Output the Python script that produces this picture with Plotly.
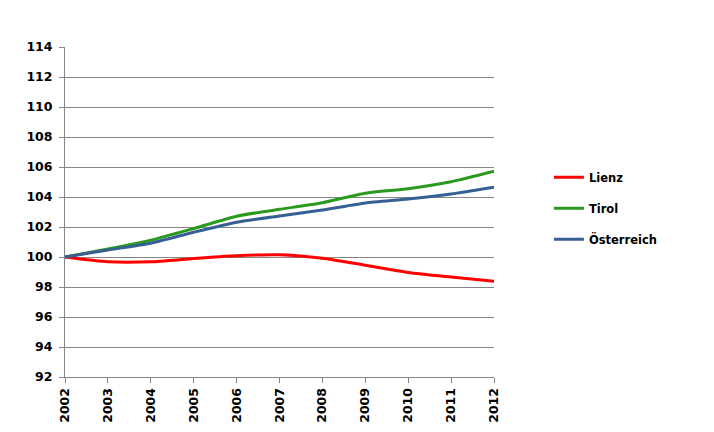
import plotly.graph_objects as go

years = [2002, 2003, 2004, 2005, 2006, 2007, 2008, 2009, 2010, 2011, 2012]
lienz = [100.0, 99.68, 99.68, 99.9, 100.08, 100.15, 99.92, 99.45, 98.97, 98.66, 98.38]
tirol = [100.0, 100.53, 101.12, 101.9, 102.72, 103.18, 103.62, 104.25, 104.55, 105.02, 105.72]
oesterreich = [100.0, 100.47, 100.92, 101.65, 102.32, 102.74, 103.13, 103.6, 103.86, 104.2, 104.65]

series_names = ["Lienz", "Tirol", "Österreich"]
series_values = [lienz, tirol, oesterreich]
series_colors = ["#ff0000", "#2a9a1f", "#365f96"]

fig = go.Figure()
for name, vals, col in zip(series_names, series_values, series_colors):
    fig.add_trace(go.Scatter(
        x=years, y=vals, name=name, mode="lines",
        line=dict(color=col, width=3, shape="spline", smoothing=0.6),
        legendgroup=name,
    ))

fig.update_layout(
    width=706, height=424,
    margin=dict(l=57, r=220, t=39, b=55, autoexpand=False),
    paper_bgcolor="white", plot_bgcolor="white",
    font=dict(family="DejaVu Sans", size=11, color="black"),
    showlegend=True,
    legend=dict(
        x=1.128, y=0.649, xanchor="left", yanchor="top",
        font=dict(family="DejaVu Sans", size=11.5, color="black", weight="bold"),
        tracegroupgap=12, traceorder="grouped",
        bgcolor="rgba(0,0,0,0)",
    ),
    xaxis=dict(
        range=[2002, 2012], tickvals=years, ticktext=[str(y) for y in years],
        tickangle=-90, showgrid=False, zeroline=False, automargin=False,
        showline=True, linecolor="#868686", linewidth=1,
        ticks="outside", ticklen=5, tickcolor="#868686",
        tickfont=dict(family="DejaVu Sans", size=12.5, color="black", weight="bold"),
    ),
    yaxis=dict(
        range=[92, 114], dtick=2, tick0=92, automargin=False,
        showgrid=True, gridcolor="#868686", gridwidth=1, zeroline=False,
        showline=True, linecolor="#868686", linewidth=1,
        ticks="outside", ticklen=5, tickcolor="#868686",
        ticklabelstandoff=4,
        tickfont=dict(family="DejaVu Sans", size=12.5, color="black", weight="bold"),
    ),
)

fig.write_html("out.html")
